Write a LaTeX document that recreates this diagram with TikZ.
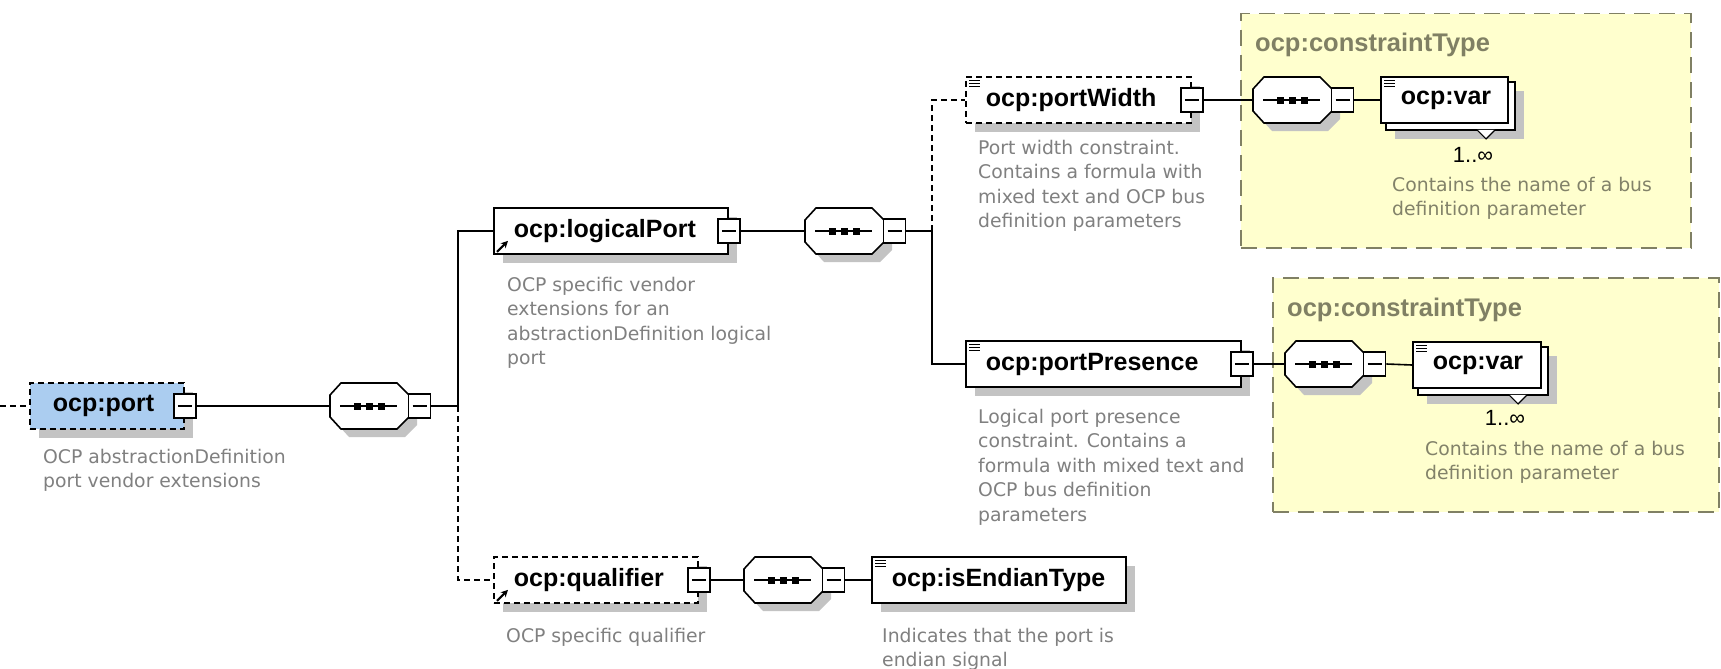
\documentclass[tikz,border=0pt]{standalone}
\usepackage{fontspec}
\setmainfont{DejaVu Sans}
\newfontfamily\lblfont{Liberation Sans}
\usetikzlibrary{shadows,arrows.meta,calc}
\definecolor{portblue}{RGB}{171,205,240}
\definecolor{ylw}{RGB}{255,255,206}
\definecolor{olivec}{RGB}{128,128,100}
\definecolor{ydesc}{RGB}{130,130,105}
\definecolor{descc}{RGB}{128,128,128}
\definecolor{shd}{RGB}{195,195,195}
\pgfdeclarelayer{back}\pgfdeclarelayer{mid}\pgfsetlayers{back,mid,main}
\tikzset{
  conn/.style={line width=1.6pt},
  dconn/.style={line width=1.6pt, dash pattern=on 6pt off 4pt},
  elbase/.style={draw, line width=1.8pt, fill=white, inner sep=0pt, anchor=west, minimum height=46pt,
    font=\lblfont\bfseries\fontsize{25}{25}\selectfont},
  el/.style={elbase, drop shadow={shadow xshift=9pt, shadow yshift=-9pt, fill=shd, opacity=1}},
  optel/.style={dash pattern=on 6pt off 4pt},
  minusbox/.style={draw, line width=1.4pt, fill=white, minimum width=22pt, minimum height=24pt, inner sep=0pt,
    path picture={\draw[line width=1.2pt] ([xshift=4pt]path picture bounding box.west) -- ([xshift=-4pt]path picture bounding box.east);}},
  dsc/.style={anchor=north west, align=left, inner sep=0pt, text=descc, font=\fontsize{18.8}{24.5}\selectfont},
  ydsc/.style={dsc, text=ydesc},
  ybox/.style={draw=olivec, fill=ylw, line width=1.5pt, dash pattern=on 16pt off 9pt, anchor=north west, inner sep=0pt},
  ytitle/.style={anchor=west, inner sep=0pt, text=olivec, font=\lblfont\bfseries\fontsize{25.5}{25.5}\selectfont},
  mult/.style={inner sep=0pt, font=\lblfont\fontsize{22}{22}\selectfont},
  seq/.pic={
    \fill[shd, shift={(8,8)}] (0,-11) -- (11,-23) -- (67,-23) -- (79,-11) -- (79,11) -- (67,23) -- (11,23) -- (0,11) -- cycle;
    \draw[line width=1.6pt, fill=white] (0,-11) -- (11,-23) -- (67,-23) -- (79,-11) -- (79,11) -- (67,23) -- (11,23) -- (0,11) -- cycle;
    \draw[line width=1.5pt] (10,0) -- (67,0);
    \foreach \dx in {27,39,51} \fill (\dx-3.5,-3.5) rectangle (\dx+3.5,3.5);
    \node[inner sep=0pt, minimum width=79pt, minimum height=46pt, anchor=west] (-oct) at (0,0) {};
    \node[minusbox, anchor=west] (-min) at (78,0) {};
  }
}
\newcommand{\lb}[2]{\makebox[#1pt][l]{\hspace{20pt}#2}}
\begin{document}
\begin{tikzpicture}[x=1pt,y=-1pt]
\begin{pgfonlayer}{back}
\fill[white] (0,0) rectangle (1721,669);
\node[ybox, minimum width=450pt, minimum height=234pt] (ct1) at (1240,13) {};
\node[ybox, minimum width=446pt, minimum height=234pt] (ct2) at (1272,277) {};
\end{pgfonlayer}
\useasboundingbox (0,0) rectangle (1721,669);

\node[ytitle] (ct1t) at (1255,45) {ocp:constraintType};
\node[ytitle] (ct2t) at (1287,310) {ocp:constraintType};

% elements
\node[el, optel, fill=portblue] (port) at (29,406) {\makebox[154pt][l]{\hspace{23pt}ocp:port}};
\node[el] (lp) at (493,231) {\lb{234}{ocp:logicalPort}};
\node[el, optel] (pw) at (965,100) {\lb{225}{ocp:portWidth}};
\node[el] (pp) at (965,364) {\lb{275}{ocp:portPresence}};
\node[el, optel] (qual) at (493,580) {\lb{204}{ocp:qualifier}};
\node[el] (ie) at (871,580) {\lb{254}{ocp:isEndianType}};
\node[elbase] (var1) at (1380,100) {\lb{127}{ocp:var}};
\node[elbase] (var2) at (1412,365) {\lb{128}{ocp:var}};

% back copies of repeated elements
\begin{pgfonlayer}{mid}
\draw[line width=1.8pt, fill=white, drop shadow={shadow xshift=9pt, shadow yshift=-9pt, fill=shd, opacity=1}]
  ([shift={(6,6)}]var1.north west) rectangle ([shift={(6,6)}]var1.south east);
\draw[line width=1.8pt, fill=white, drop shadow={shadow xshift=9pt, shadow yshift=-9pt, fill=shd, opacity=1}]
  ([shift={(6,6)}]var2.north west) rectangle ([shift={(6,6)}]var2.south east);
\end{pgfonlayer}
\foreach \v in {var1,var2}{
  \draw[line width=1.2pt, fill=white] ($(\v.south west)+(97,6)$) -- ($(\v.south west)+(106,15)$) -- ($(\v.south west)+(115,6)$);
}
\node[mult] (m1) at ($(var1.north west)+(93,79)$) {1..∞};
\node[mult] (m2) at ($(var2.north west)+(93,77)$) {1..∞};

% minus boxes of elements
\node[minusbox] (mPort) at (port.east) {};
\node[minusbox] (mLp) at (lp.east) {};
\node[minusbox] (mPw) at (pw.east) {};
\node[minusbox] (mPp) at (pp.east) {};
\node[minusbox] (mQual) at (qual.east) {};

% sequence compositors
\pic (A) at (330,406) {seq};
\pic (B) at (805,231) {seq};
\pic (C) at (1253,100) {seq};
\pic (D) at (1285,364) {seq};
\pic (E) at (744,580) {seq};

% icons
\foreach \n in {pw,pp,ie,var1,var2}{
  \foreach \dy in {4,7,10} \draw[line width=1.1pt] ($(\n.north west)+(4,\dy)$) -- ++(11,0);
}
\foreach \n in {lp,qual}{
  \draw[line width=2pt, -{Stealth[length=7pt,width=7pt]}] ($(\n.south west)+(4,-3)$) -- ($(\n.south west)+(15,-14)$);
}

% connectors
\coordinate (in) at (0,406);
\coordinate (j1) at (458,406);
\coordinate (j2) at (932,231);
\draw[dconn] (in) -- (port.west);
\draw[conn] (mPort.east) -- (A-oct.west);
\draw[conn] (A-min.east) -- (j1);
\draw[conn] (j1) |- (lp.west);
\draw[dconn] (j1) |- (qual.west);
\draw[conn] (mLp.east) -- (B-oct.west);
\draw[conn] (B-min.east) -- (j2);
\draw[dconn] (j2) |- (pw.west);
\draw[conn] (j2) |- (pp.west);
\draw[conn] (mPw.east) -- (C-oct.west);
\draw[conn] (C-min.east) -- (var1.west);
\draw[conn] (mPp.east) -- (D-oct.west);
\draw[conn] (D-min.east) -- (var2.west);
\draw[conn] (mQual.east) -- (E-oct.west);
\draw[conn] (E-min.east) -- (ie.west);

% descriptions
\node[dsc] (d1) at (43,449) {OCP abstractionDefinition\\port vendor extensions};
\node[dsc] (d2) at (507,277) {OCP specific vendor\\extensions for an\\abstractionDefinition logical\\port};
\node[dsc] (d3) at (978,140) {Port width constraint.\\Contains a formula with\\mixed text and OCP bus\\definition parameters};
\node[dsc] (d4) at (978,409) {Logical port presence\\constraint. Contains a\\formula with mixed text and\\OCP bus definition\\parameters};
\node[ydsc] (d5) at (1392,177) {Contains the name of a bus\\definition parameter};
\node[ydsc] (d6) at (1425,441) {Contains the name of a bus\\definition parameter};
\node[dsc] (d7) at (506,628) {OCP specific qualifier};
\node[dsc] (d8) at (882,628) {Indicates that the port is\\endian signal};
\end{tikzpicture}
\end{document}
